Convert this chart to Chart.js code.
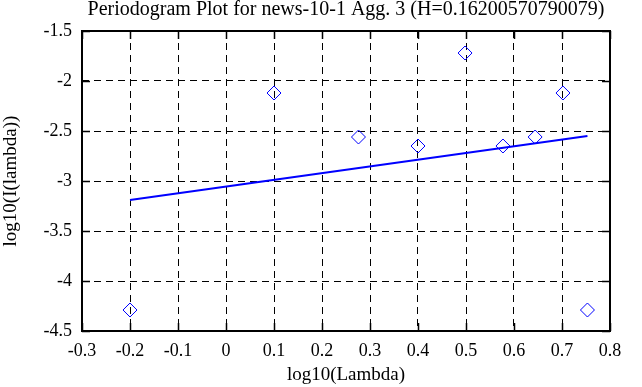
<!DOCTYPE html>
<html>
<head>
<meta charset="utf-8">
<script src="https://cdn.jsdelivr.net/npm/chart.js@4"></script>
<style>
  html, body { margin: 0; padding: 0; background: #fff; }
</style>
</head>
<body>
<canvas id="chart" width="642" height="387"></canvas>
<script>
const logLambda = [-0.2, 0.1, 0.276, 0.4, 0.498, 0.577, 0.644, 0.702, 0.753];
const logI = [-4.29, -2.12, -2.56, -2.65, -1.72, -2.65, -2.56, -2.12, -4.29];
const fitX = [-0.2, 0.753];
const fitY = [-3.19, -2.55];
const xTickValues = [-0.3, -0.2, -0.1, 0, 0.1, 0.2, 0.3, 0.4, 0.5, 0.6, 0.7, 0.8];
const yTickValues = [-4.5, -4, -3.5, -3, -2.5, -2, -1.5];

const SERIF = "'Liberation Serif', 'Times New Roman', serif";
const tickFont = { family: SERIF, size: 18 };
const labelFont = { family: SERIF, size: 19 };

// solid frame + short inward tick marks on all four sides
const framePlugin = {
  id: "frame",
  afterDraw(chart) {
    const { ctx, chartArea: a, scales } = chart;
    const len = 8;
    ctx.save();
    ctx.strokeStyle = "#000";
    ctx.lineWidth = 1.5;
    ctx.beginPath();
    xTickValues.forEach((v) => {
      const px = Math.round(scales.x.getPixelForValue(v)) + 0.5;
      ctx.moveTo(px, a.top);
      ctx.lineTo(px, a.top + len);
      ctx.moveTo(px, a.bottom);
      ctx.lineTo(px, a.bottom - len);
    });
    yTickValues.forEach((v) => {
      const py = Math.round(scales.y.getPixelForValue(v)) + 0.5;
      ctx.moveTo(a.left, py);
      ctx.lineTo(a.left + len, py);
      ctx.moveTo(a.right, py);
      ctx.lineTo(a.right - len, py);
    });
    ctx.stroke();
    ctx.lineWidth = 2;
    ctx.strokeRect(a.left, a.top, a.right - a.left, a.bottom - a.top);
    ctx.restore();
  },
};

function initChart() {
  const ctx = document.getElementById("chart").getContext("2d");
  new Chart(ctx, {
    type: "scatter",
    data: {
      datasets: [
        {
          label: "periodogram",
          data: logLambda.map((x, i) => ({ x, y: logI[i] })),
          pointStyle: "rectRot",
          pointRadius: 7,
          borderColor: "#0000ff",
          backgroundColor: "rgba(0,0,0,0)",
          borderWidth: 1,
        },
        {
          label: "fit",
          data: fitX.map((x, i) => ({ x, y: fitY[i] })),
          showLine: true,
          borderColor: "#0000ff",
          borderWidth: 2,
          pointRadius: 0,
        },
      ],
    },
    options: {
      responsive: false,
      animation: false,
      layout: { padding: { left: 0, right: 32, top: 0, bottom: 0 } },
      plugins: {
        legend: { display: false },
        tooltip: { enabled: false },
        title: {
          display: true,
          fullSize: false,
          text: "Periodogram Plot for news-10-1 Agg. 3 (H=0.16200570790079)",
          color: "#000",
          font: { family: SERIF, size: 20, weight: "normal", lineHeight: 1.0 },
          padding: { top: 0, bottom: 11 },
        },
      },
      scales: {
        x: {
          type: "linear",
          min: -0.3,
          max: 0.8,
          afterBuildTicks: (s) => { s.ticks = xTickValues.map((v) => ({ value: v })); },
          afterFit: (s) => { s.height = 56; },
          ticks: { callback: (v) => String(v), color: "#000", font: tickFont, padding: 9, maxRotation: 0, autoSkip: false },
          grid: { color: "#000", lineWidth: 1, drawTicks: false },
          border: { display: false, dash: [7, 5] },
          title: { display: true, text: "log10(Lambda)", color: "#000", font: labelFont, padding: { top: 0, bottom: 1 } },
        },
        y: {
          type: "linear",
          min: -4.5,
          max: -1.5,
          afterBuildTicks: (s) => { s.ticks = yTickValues.map((v) => ({ value: v })); },
          afterFit: (s) => { s.width = 82; },
          ticks: { callback: (v) => String(v), color: "#000", font: tickFont, padding: 10, autoSkip: false },
          grid: { color: "#000", lineWidth: 1, drawTicks: false },
          border: { display: false, dash: [7, 5] },
          title: { display: true, text: "log10(I(lambda))", color: "#000", font: labelFont, padding: { top: 0, bottom: 0 } },
        },
      },
    },
    plugins: [framePlugin],
  });
}

initChart();
</script>
</body>
</html>
